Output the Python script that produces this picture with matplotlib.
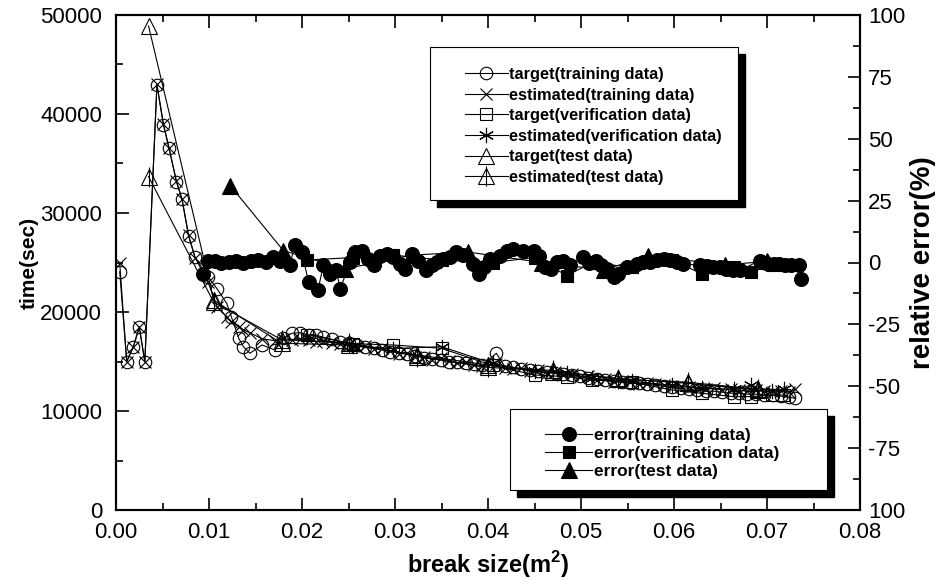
import numpy as np
import matplotlib.pyplot as plt
from matplotlib.patches import Rectangle
from matplotlib.ticker import MultipleLocator, FormatStrFormatter

plt.rcParams['font.family'] = 'Liberation Sans'
plt.rcParams['mathtext.fontset'] = 'custom'
plt.rcParams['mathtext.rm'] = 'Liberation Sans'
plt.rcParams['mathtext.bf'] = 'Liberation Sans:bold'

# training data: break size, target time, estimated time
train_x = [0.0004, 0.00115, 0.00186, 0.0025, 0.0031, 0.0044, 0.0051, 0.0057, 0.0065,
           0.0071, 0.0078, 0.0085, 0.0099, 0.0109, 0.0119, 0.0124, 0.0132, 0.0137,
           0.0144, 0.0157, 0.0171, 0.0180, 0.0189, 0.0198, 0.0207, 0.0215, 0.0223,
           0.0232, 0.0241, 0.0250, 0.0259, 0.0268, 0.0277, 0.0286, 0.0295, 0.0304,
           0.0313, 0.0322, 0.0331, 0.0340, 0.0349, 0.0358, 0.0367, 0.0376, 0.0385,
           0.0394, 0.0409, 0.0418, 0.0427, 0.0436, 0.0445, 0.0454, 0.0463, 0.0472,
           0.0481, 0.0490, 0.0499, 0.0508, 0.0517, 0.0526, 0.0535, 0.0544, 0.0553,
           0.0562, 0.0571, 0.0580, 0.0589, 0.0598, 0.0607, 0.0616, 0.0625, 0.0634,
           0.0643, 0.0652, 0.0661, 0.0670, 0.0679, 0.0688, 0.0697, 0.0706, 0.0715,
           0.0724, 0.0730]
train_target = [24070, 14980, 16430, 18450, 14980, 42930, 38890, 36530, 33160,
                31380, 27680, 25520, 23570, 22300, 20880, 19530, 17340, 16500,
                15830, 16670, 16160, 17340, 17850, 17910, 17680, 17680, 17440,
                17240, 17000, 16900, 16700, 16500, 16400, 16200, 16000, 15900,
                15800, 15600, 15400, 15300, 15200, 15000, 14900, 14800, 14700,
                14600, 15830, 14500, 14400, 14200, 14100, 14000, 13900, 13800,
                13700, 13600, 13500, 13300, 13200, 13100, 13000, 12900, 12800,
                12800, 12700, 12600, 12500, 12400, 12300, 12200, 12100, 12000,
                12000, 11900, 11800, 11800, 11700, 11700, 11600, 11600, 11500,
                11400, 11280]
train_est = [24950, 15000, 16500, 18500, 15000, 43000, 39000, 36600, 33200,
             31400, 27800, 25500, 23000, 20500, 19500, 19000, 18500, 18200,
             17900, 17300, 17100, 17300, 17200, 17300, 17200, 17000, 17100,
             16900, 16800, 16700, 16500, 16600, 16300, 16400, 16100, 15800,
             15900, 15500, 15500, 15200, 15400, 15100, 14800, 14900, 14600,
             14500, 14700, 14300, 14200, 14300, 14000, 14100, 13800, 13900,
             13600, 13700, 13400, 13500, 13100, 13200, 12900, 13000, 12900,
             12700, 12800, 12700, 12600, 12500, 12500, 12400, 12300, 12200,
             12300, 12100, 12200, 12100, 12000, 12100, 12000, 11900, 12000,
             11900, 12200]

# verification data
verif_x = [0.0205, 0.0255, 0.0298, 0.0350, 0.0405, 0.0450, 0.0485, 0.0512,
           0.0555, 0.0598, 0.0630, 0.0664, 0.0683, 0.0705, 0.0718]
verif_target = [17700, 16800, 16670, 16330, 14600, 13640, 13470, 13130,
                12900, 12120, 11790, 11450, 11450, 11620, 11620]
verif_est = [17500, 16600, 16300, 16500, 14800, 14000, 13800, 13300,
             13000, 12600, 12300, 12200, 12600, 12000, 12200]

# test data
test_x = [0.0035, 0.0105, 0.0178, 0.0250, 0.0324, 0.0400, 0.0470, 0.0540, 0.0615, 0.0690]
test_target = [48890, 21200, 16840, 16670, 15660, 14650, 13970, 13300, 12790, 12120]
test_est = [33670, 21000, 17200, 16900, 15500, 14400, 14100, 13200, 12900, 12200]

# relative error (%)
err_train_x = [0.0094, 0.0099, 0.0106, 0.0113, 0.0121, 0.0129, 0.0137, 0.0145,
               0.0153, 0.0161, 0.0169, 0.0176, 0.0187, 0.0192, 0.0200, 0.0207,
               0.0217, 0.0223, 0.0230, 0.0237, 0.0241, 0.0252, 0.0257, 0.0264,
               0.0271, 0.0277, 0.0284, 0.0291, 0.0298, 0.0305, 0.0311, 0.0318,
               0.0325, 0.0333, 0.0340, 0.0345, 0.0352, 0.0359, 0.0366, 0.0373,
               0.0384, 0.0390, 0.0396, 0.0402, 0.0413, 0.0420, 0.0427, 0.0438,
               0.0449, 0.0455, 0.0461, 0.0468, 0.0474, 0.0481, 0.0488, 0.0502,
               0.0509, 0.0516, 0.0522, 0.0528, 0.0535, 0.0540, 0.0549, 0.0560,
               0.0567, 0.0574, 0.0582, 0.0589, 0.0596, 0.0603, 0.0610, 0.0628,
               0.0635, 0.0642, 0.0649, 0.0656, 0.0663, 0.0671, 0.0692, 0.0699,
               0.0707, 0.0713, 0.0719, 0.0726, 0.0734, 0.0737]
err_train = [-4.5, 0.8, 0.5, -0.3, 0.2, 0.5, 0.0, 0.6,
             1.0, 0.4, 2.2, 0.8, -1.2, 6.9, 4.2, -8.0,
             -11.3, -1.2, -4.6, -3.2, -10.6, 0.1, 4.2, 4.8,
             1.5, -1.2, 2.8, 3.5, 2.2, -0.5, -2.6, 3.5,
             0.8, -3.2, -1.2, 0.1, 1.5, 2.2, 4.2, 3.0,
             -0.5, -4.6, -2.0, 1.5, 2.8, 4.5, 5.5, 4.8,
             4.8, 2.8, -1.9, -2.6, 0.1, 0.5, -1.0, 2.2,
             0.0, 0.5, -1.0, -2.6, -5.9, -4.6, -1.9, -0.5,
             0.3, 0.1, 1.0, 1.5, 1.0, 0.1, -0.5, -1.2,
             -1.5, -1.9, -2.0, -2.6, -3.0, -3.2, 0.8, 0.0,
             -0.5, -0.8, -1.2, -1.0, -1.2, -6.6]
err_verif = [1.0, 2.0, 3.0, 1.0, 0.0, 2.0, -5.3, 0.0,
             -2.0, 1.0, -4.6, -2.0, -3.9, -1.0, -1.0]
err_test_x = [0.0123, 0.0180, 0.0246, 0.0318, 0.0379, 0.0458, 0.0525, 0.0572, 0.0655, 0.0700]
err_test = [31.0, 4.8, -2.6, 3.0, 4.2, 0.0, -3.0, 2.8, -1.0, 0.5]

left_ticks = [0, 10000, 20000, 30000, 40000, 50000]
right_ticks = [-100, -75, -50, -25, 0, 25, 50, 75, 100]
right_labels = ['100', '-75', '-50', '-25', '0', '25', '50', '75', '100']

fig = plt.figure(figsize=(9.43, 5.81), dpi=100)
ax = fig.add_axes([116 / 943, 71 / 581, 744 / 943, 495 / 581])
ax2 = ax.twinx()

lk = dict(color='k', lw=0.8, mec='k', mew=0.8)
h_tt, = ax.plot(train_x, train_target, marker='o', ms=9, mfc='none', **lk)
h_te, = ax.plot(train_x, train_est, marker='x', ms=9, **lk)
h_vt, = ax.plot(verif_x, verif_target, marker='s', ms=8, mfc='none', **lk)
h_ve, = ax.plot(verif_x, verif_est, marker=(6, 2, 0), ms=11, **lk)
h_st, = ax.plot(test_x, test_target, marker='^', ms=12, mfc='none', **lk)
h_se, = ax.plot(test_x, test_est, marker='^', ms=12, mfc='none', **lk)
h_sb, = ax.plot(test_x, test_est, ls='none', marker='|', ms=14, mec='k', mew=0.8)

h_er, = ax2.plot(err_train_x, err_train, marker='o', ms=10, mfc='k', **lk)
h_ev, = ax2.plot(verif_x, err_verif, marker='s', ms=9, mfc='k', **lk)
h_es, = ax2.plot(err_test_x, err_test, marker='^', ms=12, mfc='k', **lk)

ax.set_xlim(0, 0.08)
ax.set_ylim(0, 50000)
ax2.set_ylim(-100, 100)
ax.xaxis.set_major_locator(MultipleLocator(0.01))
ax.xaxis.set_minor_locator(MultipleLocator(0.005))
ax.xaxis.set_major_formatter(FormatStrFormatter('%.2f'))
ax.set_yticks(left_ticks)
ax.yaxis.set_minor_locator(MultipleLocator(5000))
ax2.set_yticks(right_ticks)
ax2.set_yticklabels(right_labels)
ax2.yaxis.set_minor_locator(MultipleLocator(12.5))

for a in (ax, ax2):
    a.tick_params(which='both', direction='in', width=1.2, labelsize=16)
    a.tick_params(which='major', length=9)
    a.tick_params(which='minor', length=5)
    for s in a.spines.values():
        s.set_linewidth(1.5)
ax.tick_params(which='both', top=True)
ax.tick_params(axis='x', pad=9)
ax.tick_params(axis='y', pad=10)
ax2.tick_params(axis='y', pad=6)

ax.set_xlabel('break size(m$^{\\mathbf{2}}$)', labelpad=4, fontsize=17, fontweight='bold')
ax.set_ylabel('time(sec)', labelpad=1, fontsize=15, fontweight='bold')
ax2.set_ylabel('relative error(%)', labelpad=3, fontsize=20, fontweight='bold')


def frame(x0, y0, x1, y1):
    # white legend box with a solid black drop shadow
    dx, dy = 7 / 744, 7 / 495
    ax2.add_patch(Rectangle((x0 + dx, y0 - dy), x1 - x0, y1 - y0, transform=ax2.transAxes,
                            fc='k', ec='k', zorder=4, clip_on=False))
    ax2.add_patch(Rectangle((x0, y0), x1 - x0, y1 - y0, transform=ax2.transAxes,
                            fc='w', ec='k', lw=0.8, zorder=4.5, clip_on=False))


frame(0.422, 0.626, 0.836, 0.935)
frame(0.530, 0.040, 0.956, 0.204)

legprops = dict(frameon=False, handletextpad=0.1, borderpad=0, borderaxespad=0)
leg1 = ax2.legend([h_tt, h_te, h_vt, h_ve, h_st, (h_se, h_sb)],
                  ['target(training data)', 'estimated(training data)',
                   'target(verification data)', 'estimated(verification data)',
                   'target(test data)', 'estimated(test data)'],
                  loc='upper left', bbox_to_anchor=(0.469, 0.895), handlelength=2.6,
                  prop=dict(weight='bold', size=11.8), labelspacing=0.34, **legprops)
ax2.add_artist(leg1)
ax2.legend([h_er, h_ev, h_es],
           ['error(training data)', 'error(verification data)', 'error(test data)'],
           loc='upper left', bbox_to_anchor=(0.577, 0.165), handlelength=2.7,
           prop=dict(weight='bold', size=12.5), labelspacing=0.15, **legprops)

fig.savefig('out.png', dpi=100)
